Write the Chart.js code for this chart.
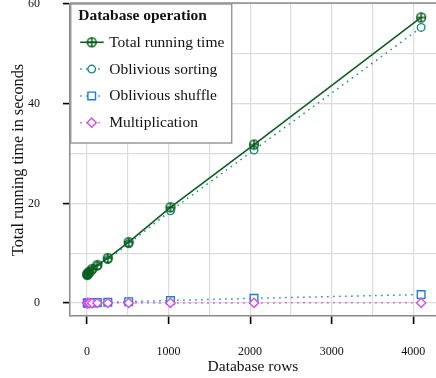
<!DOCTYPE html>
<html>
<head>
<meta charset="utf-8">
<script src="https://cdn.jsdelivr.net/npm/chart.js@4/dist/chart.umd.min.js"></script>
<style>
  html, body { margin: 0; padding: 0; background: #fff; }
</style>
</head>
<body>
<canvas id="runtimeChart" width="436" height="378"></canvas>
<script>
// database sizes (rows) and measured times in seconds
const rows = [4, 8, 16, 32, 64, 128, 256, 512, 1024, 2048, 4096];
const totalTime = [5.7, 5.8, 6.0, 6.3, 6.8, 7.6, 9.0, 12.2, 19.2, 31.8, 57.3];
const sortTime = [5.6, 5.7, 5.9, 6.2, 6.6, 7.4, 8.7, 11.9, 18.5, 30.7, 55.3];
const shuffleTime = [0.01, 0.01, 0.02, 0.03, 0.05, 0.08, 0.15, 0.28, 0.5, 0.95, 1.7];
const multTime = [0.0, 0.0, 0.0, 0.0, 0.0, 0.01, 0.01, 0.02, 0.02, 0.03, 0.05];

const xGrid = [0, 500, 1000, 1500, 2000, 2500, 3000, 3500, 4000];
const xLabels = [0, 1000, 2000, 3000, 4000];
const yGrid = [0, 10, 20, 30, 40, 50, 60];
const yLabels = [0, 20, 40, 60];

const serif = 'Liberation Serif';
const green = '#0b5e1e';
const teal = '#168a80';
const blue = '#1c7fd6';
const pink = '#d04fe6';

// circle with a plus inside, used for the total running time markers
function circledPlus(color) {
    const c = document.createElement('canvas');
    c.width = 12; c.height = 12;
    const g = c.getContext('2d');
    g.strokeStyle = color;
    g.lineWidth = 1.5;
    g.beginPath();
    g.arc(6, 6, 4.4, 0, Math.PI * 2);
    g.moveTo(6, 1.6); g.lineTo(6, 10.4);
    g.moveTo(1.6, 6); g.lineTo(10.4, 6);
    g.stroke();
    return c;
}
const plusMarker = circledPlus(green);

function toPoints(vals) {
    return rows.map((r, i) => ({ x: r, y: vals[i] }));
}

const series = [
    { label: 'Total running time', data: toPoints(totalTime), borderColor: green, backgroundColor: green,
      pointStyle: plusMarker, pointRadius: 5, borderWidth: 1.6, borderDash: [], order: 0 },
    { label: 'Oblivious sorting', data: toPoints(sortTime), borderColor: teal, backgroundColor: '#fff',
      pointStyle: 'circle', pointRadius: 3.8, borderWidth: 1.5, borderDash: [1.5, 4.5], order: 1 },
    { label: 'Oblivious shuffle', data: toPoints(shuffleTime), borderColor: blue, backgroundColor: '#fff',
      pointStyle: 'rect', pointRadius: 5.4, borderWidth: 1.5, borderDash: [1.5, 4.5], order: 3 },
    { label: 'Multiplication', data: toPoints(multTime), borderColor: pink, backgroundColor: '#fff',
      pointStyle: 'rectRot', pointRadius: 4.6, borderWidth: 1.5, borderDash: [1.5, 4.5], order: 2 }
];

// boxed legend in the upper left corner + top frame line
const boxedLegend = {
    id: 'boxedLegend',
    afterDraw(chart) {
        const ctx = chart.ctx;
        const area = chart.chartArea;
        ctx.save();
        ctx.strokeStyle = '#8a8a8a';
        ctx.lineWidth = 1.5;
        ctx.beginPath();
        ctx.moveTo(area.left, area.top - 1);
        ctx.lineTo(area.right, area.top - 1);
        ctx.stroke();

        const bx = area.left + 0.7, by = area.top, bw = 161, bh = 139;
        ctx.fillStyle = '#fff';
        ctx.fillRect(bx, by, bw, bh);
        ctx.strokeStyle = '#999';
        ctx.lineWidth = 1.5;
        ctx.strokeRect(bx, by, bw, bh);

        ctx.fillStyle = '#111';
        ctx.textBaseline = 'middle';
        ctx.font = 'bold 15.5px "' + serif + '"';
        ctx.fillText('Database operation', bx + 7.5, by + 12);

        ctx.font = '15.5px "' + serif + '"';
        series.forEach((s, i) => {
            const cy = by + 38.3 + i * 26.8;
            ctx.save();
            ctx.strokeStyle = s.borderColor;
            ctx.lineWidth = s.borderWidth;
            ctx.setLineDash(s.borderDash);
            ctx.beginPath();
            ctx.moveTo(bx + 9.5, cy);
            ctx.lineTo(bx + 33, cy);
            ctx.stroke();
            ctx.setLineDash([]);
            ctx.fillStyle = s.backgroundColor;
            ctx.lineWidth = 1.4;
            Chart.helpers.drawPoint(ctx, { pointStyle: s.pointStyle, radius: s.pointRadius, rotation: 0, borderWidth: 1.4 }, bx + 21, cy);
            ctx.restore();
            ctx.fillStyle = '#111';
            ctx.fillText(s.label, bx + 38.5, cy + 0.5);
        });
        ctx.restore();
    }
};

function tickMarkColor(list) {
    return ctx => (ctx.tick && list.includes(ctx.tick.value)) ? '#000' : 'rgba(0,0,0,0)';
}

new Chart(document.getElementById('runtimeChart').getContext('2d'), {
    type: 'line',
    data: { datasets: series.map(s => Object.assign({}, s, { pointBorderWidth: 1.4, pointBackgroundColor: s.backgroundColor, tension: 0, fill: false })) },
    options: {
        responsive: false,
        animation: false,
        layout: { autoPadding: false, padding: { top: 4, right: 0, left: 0, bottom: 0 } },
        plugins: { legend: { display: false }, tooltip: { enabled: false } },
        scales: {
            x: {
                type: 'linear',
                min: -207,
                max: 4278,
                afterBuildTicks: scale => { scale.ticks = xGrid.map(v => ({ value: v })); },
                afterFit: scale => { scale.height = 62; scale.paddingLeft = 0; scale.paddingRight = 0; },
                ticks: {
                    autoSkip: false, maxRotation: 0, padding: 21, color: '#111',
                    font: { family: serif, size: 12 },
                    callback: v => xLabels.includes(v) ? String(v) : ''
                },
                grid: { color: '#dcdcdc', lineWidth: 1.2, tickLength: 8, tickWidth: 1.6, tickColor: tickMarkColor(xLabels) },
                border: { color: '#8a8a8a', width: 1.5 },
                title: { display: true, text: 'Database rows', color: '#111', font: { family: serif, size: 15.5 }, padding: { top: 0, bottom: 2 } }
            },
            y: {
                min: -2.6,
                max: 60,
                afterBuildTicks: scale => { scale.ticks = yGrid.map(v => ({ value: v })); },
                afterFit: scale => { scale.width = 70; scale.paddingTop = 0; scale.paddingBottom = 0; },
                ticks: {
                    autoSkip: false, padding: 23, color: '#111',
                    font: { family: serif, size: 12 },
                    callback: v => yLabels.includes(v) ? String(v) : ''
                },
                grid: { color: '#dcdcdc', lineWidth: 1.2, tickLength: 7, tickWidth: 1.6, tickColor: tickMarkColor(yLabels) },
                border: { color: '#8a8a8a', width: 1.5 },
                title: { display: true, text: 'Total running time in seconds', color: '#111', font: { family: serif, size: 16.2 }, padding: { top: 9, bottom: 0 } }
            }
        }
    },
    plugins: [boxedLegend]
});
</script>
</body>
</html>
